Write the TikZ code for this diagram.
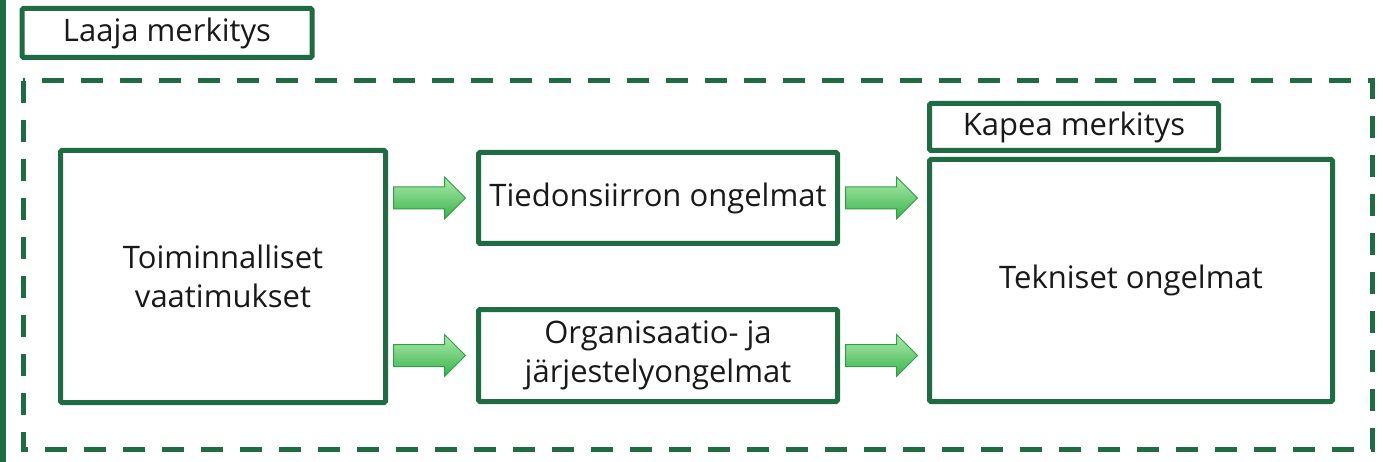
\documentclass[tikz,border=0pt]{standalone}
\usepackage{fontspec}
\setmainfont{Open Sans}
\usetikzlibrary{positioning,calc,shapes.arrows,shadows}
\definecolor{darkgreen}{RGB}{31,107,66}
\definecolor{arrowlight}{RGB}{172,236,172}
\definecolor{arrowdark}{RGB}{58,178,76}
\definecolor{arrowline}{RGB}{48,158,70}
\tikzstyle{block}=[draw=darkgreen,line width=5pt,fill=white,rounded corners=1.5pt,inner sep=0pt,align=center,text=black!90,font=\fontsize{31}{39}\selectfont,drop shadow={opacity=0.2,shadow xshift=1.5pt,shadow yshift=-1.5pt}]
\tikzstyle{flow}=[single arrow,draw=arrowline,line width=1pt,top color=arrowlight,bottom color=arrowdark,minimum height=72pt,single arrow head extend=10pt,inner xsep=0pt,inner ysep=10.5pt,anchor=tail]

\begin{document}
\begin{tikzpicture}[x=1pt,y=-1pt]
\useasboundingbox (0,0) rectangle (1383,462);
\draw[darkgreen,line width=6pt] (3,0) -- (3,462);
\draw[darkgreen,line width=5pt,dash pattern=on 22pt off 17pt] (23,81) rectangle (1372,449);

\node [block,minimum width=290pt,minimum height=49pt] (laaja) at (167,33) {Laaja merkitys};
\node [block,minimum width=325pt,minimum height=252pt] (toim) at (223,276.5) {Toiminnalliset\\vaatimukset};
\node [block,minimum width=359pt,minimum height=91pt] (tied) at (658,198) {Tiedonsiirron ongelmat};
\node [block,minimum width=359pt,minimum height=92pt] (org) at (658,355.5) {Organisaatio- ja\\järjestelyongelmat};
\node [block,minimum width=403pt,minimum height=242pt] (tekn) at (1131,280.5) {Tekniset ongelmat};
\node [block,minimum width=289pt,minimum height=47pt,anchor=south west] (kapea) at ([yshift=4pt]tekn.north west) {Kapea merkitys};

\node [flow] (a1) at ([xshift=5pt]toim.east |- tied.west) {};
\node [flow] (a2) at ([xshift=5pt]toim.east |- org.west) {};
\node [flow] (a3) at ([xshift=5pt]tied.east) {};
\node [flow] (a4) at ([xshift=5pt]org.east) {};
\end{tikzpicture}
\end{document}
